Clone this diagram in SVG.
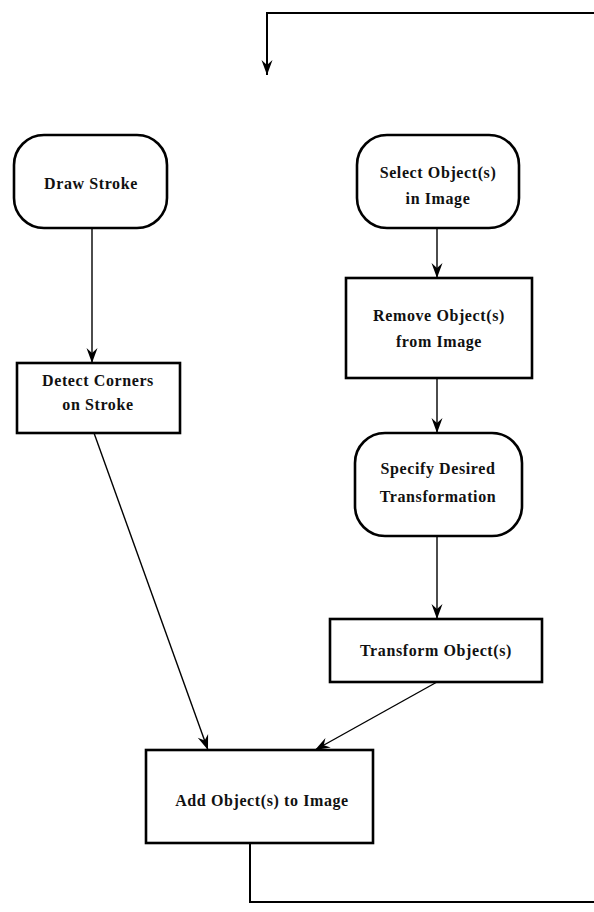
<svg xmlns="http://www.w3.org/2000/svg" width="594" height="912" viewBox="0 0 594 912">
<style>
.box{fill:#fff;stroke:#000;stroke-width:2.6}
.lbl{font-family:"Liberation Serif","DejaVu Serif",serif;font-size:16px;font-weight:bold;letter-spacing:0.6px;fill:#111;text-anchor:middle}
.con{fill:none;stroke:#000;stroke-width:1.4}
.conb{fill:none;stroke:#000;stroke-width:2}
</style>
<defs>
<marker id="ah" markerUnits="userSpaceOnUse" markerWidth="20" markerHeight="14" viewBox="-16 -7 18 14" refX="0" refY="0" orient="auto">
<path d="M0,0 L-15,-5.5 L-10,0 L-15,5.5 Z" fill="#000"/>
</marker>
</defs>
<g id="connectors">
<path class="conb" d="M594,13 L267,13 L267,75" marker-end="url(#ah)"/>
<path class="con" d="M92,228 L92,363" marker-end="url(#ah)"/>
<path class="con" d="M437,228 L437,278" marker-end="url(#ah)"/>
<path class="con" d="M437,378 L437,433" marker-end="url(#ah)"/>
<path class="con" d="M437,536 L437,619" marker-end="url(#ah)"/>
<path class="con" d="M94,433 L208,750" marker-end="url(#ah)"/>
<path class="con" d="M437,682 L315,750" marker-end="url(#ah)"/>
<path class="conb" d="M250,843 L250,902 L594,902"/>
</g>
<g id="draw-stroke">
<rect class="box" x="14" y="135" width="153" height="93" rx="30" ry="30"/>
<text class="lbl" x="91" y="189">Draw Stroke</text>
</g>
<g id="select-objects">
<rect class="box" x="357" y="135" width="162" height="93" rx="30" ry="30"/>
<text class="lbl" x="438" y="178">Select Object(s)</text>
<text class="lbl" x="438" y="204">in Image</text>
</g>
<g id="detect-corners">
<rect class="box" x="17" y="363" width="163" height="70"/>
<text class="lbl" x="98" y="386">Detect Corners</text>
<text class="lbl" x="98" y="410">on Stroke</text>
</g>
<g id="remove-objects">
<rect class="box" x="346" y="278" width="186" height="100"/>
<text class="lbl" x="439" y="321">Remove Object(s)</text>
<text class="lbl" x="439" y="347">from Image</text>
</g>
<g id="specify-transformation">
<rect class="box" x="355" y="433" width="167" height="103" rx="30" ry="30"/>
<text class="lbl" x="438" y="474">Specify Desired</text>
<text class="lbl" x="438" y="502">Transformation</text>
</g>
<g id="transform-objects">
<rect class="box" x="330" y="619" width="212" height="63"/>
<text class="lbl" x="436" y="656">Transform Object(s)</text>
</g>
<g id="add-objects">
<rect class="box" x="146" y="750" width="227" height="93"/>
<text class="lbl" x="262" y="806">Add Object(s) to Image</text>
</g>
</svg>
